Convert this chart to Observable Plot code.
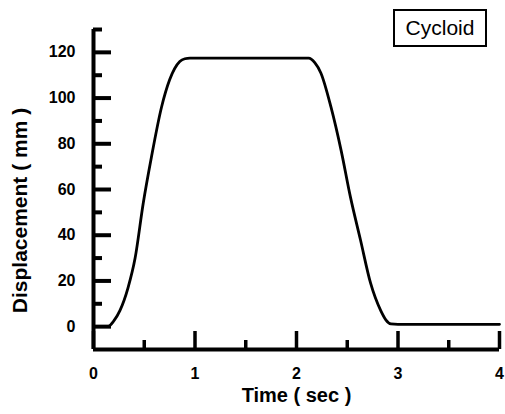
<!DOCTYPE html>
<html>
<head>
<meta charset="utf-8">
<script src="https://cdn.jsdelivr.net/npm/d3@7"></script>
<script src="https://cdn.jsdelivr.net/npm/@observablehq/plot@0.6"></script>
<style>
  html, body { margin: 0; padding: 0; background: #fff; }
  #wrap { position: relative; width: 505px; height: 414px; }
  #legend {
    position: absolute; left: 393px; top: 9px; width: 90px; height: 34px;
    border: 2px solid #000; font-family: "Liberation Sans", Arial, sans-serif;
    font-size: 21px; color: #000; display: flex; align-items: center; justify-content: center;
  }
</style>
</head>
<body>
<div id="wrap"><div id="legend">Cycloid</div></div>
<script>
// Data
const time = [0, 0.14, 0.2, 0.26, 0.34, 0.41, 0.49, 0.57, 0.67, 0.75, 0.85, 0.9, 0.95, 2.12, 2.18, 2.24, 2.34, 2.44, 2.53, 2.63, 2.73, 2.83, 2.88, 2.93, 3.0, 4.0];
const displacement = [0, 0, 2.5, 7, 17, 30, 54, 74, 96, 108, 116, 117.2, 117.5, 117.5, 115.5, 111, 96, 77, 57, 38, 19, 7, 3, 1.2, 1, 1];
const yMajorTicks = [0, 20, 40, 60, 80, 100, 120];
const yMinorTicks = [10, 30, 50, 70, 90, 110, 130];
const xMajorTicks = [0, 1, 2, 3, 4];
const xMinorTicks = [0.5, 1.5, 2.5, 3.5];
const xTitle = "Time ( sec )";
const yTitle = "Displacement ( mm )";

const data = time.map((t, i) => ({t, v: displacement[i]}));

const W = 505, H = 414;
const mL = 93, mR = 6, mT = 29, mB = 65;
const pw = W - mL - mR, ph = H - mT - mB;
const font = '"Liberation Sans", Arial, sans-serif';

const chart = Plot.plot({
  width: W, height: H,
  marginLeft: mL, marginRight: mR, marginTop: mT, marginBottom: mB,
  style: {fontFamily: font, fontSize: "16px", fontWeight: "bold", color: "#000", background: "#fff"},
  x: {domain: [0, 4], label: null},
  y: {domain: [-10, 130], label: null},
  marks: [
    Plot.axisY({ticks: yMajorTicks, tickSize: 0, tickPadding: 18, label: null, tickFormat: d => d, fontSize: 16, fontWeight: "bold"}),
    Plot.axisX({ticks: xMajorTicks, tickSize: 0, tickPadding: 18, label: null, tickFormat: d => d, fontSize: 16, fontWeight: "bold"}),
    Plot.tickY(yMajorTicks, {y: d => d, insetRight: pw - 18, stroke: "#000", strokeWidth: 4}),
    Plot.tickY(yMinorTicks, {y: d => d, insetRight: pw - 9, stroke: "#000", strokeWidth: 4}),
    Plot.tickX(xMajorTicks, {x: d => d, insetTop: ph - 18, stroke: "#000", strokeWidth: 3.5}),
    Plot.tickX(xMinorTicks, {x: d => d, insetTop: ph - 9, stroke: "#000", strokeWidth: 3.5}),
    Plot.ruleX([0], {stroke: "#000", strokeWidth: 4}),
    Plot.ruleY([-10], {stroke: "#000", strokeWidth: 4}),
    Plot.line(data, {x: "t", y: "v", stroke: "#000", strokeWidth: 2.8, curve: "monotone-x"}),
    Plot.text([xTitle], {frameAnchor: "bottom", dy: 46, text: d => d, fontSize: 20, fontWeight: "bold", lineAnchor: "middle", textAnchor: "middle", fill: "#000"}),
    Plot.text([yTitle], {frameAnchor: "left", dx: -73, dy: 21, rotate: -90, text: d => d, fontSize: 21, fontWeight: "bold", lineAnchor: "middle", textAnchor: "middle", fill: "#000"})
  ]
});
document.getElementById("wrap").prepend(chart);
</script>
</body>
</html>
